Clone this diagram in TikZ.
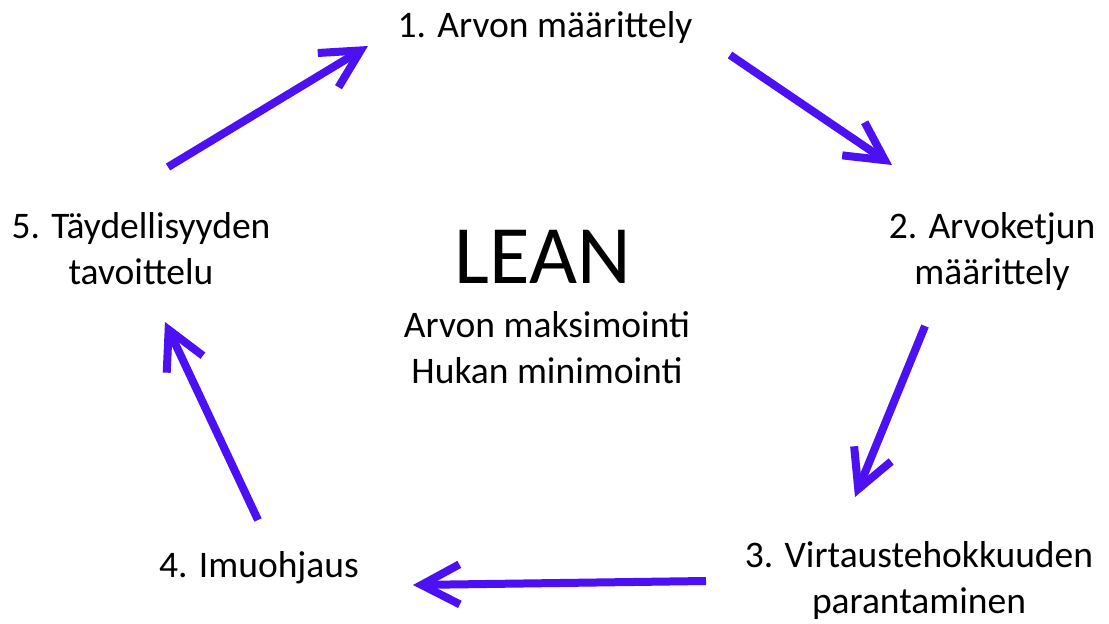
\documentclass[tikz,border=0pt]{standalone}
\usepackage{fontspec}
\setmainfont{Carlito}
\usetikzlibrary{arrows.meta}
\definecolor{cyclecol}{RGB}{76,16,245}
\tikzset{
  label/.style={anchor=base, align=center, inner sep=0pt,
    font=\fontsize{37.5}{45.5}\selectfont},
  cyclearrow/.style={draw=cyclecol, line width=8pt,
    -{Straight Barb[length=38pt,width=40pt,line width=8pt]}}
}
\begin{document}
\begin{tikzpicture}[x=1pt,y=-1pt]
  \useasboundingbox (0,0) rectangle (1109,624);

  % step labels around the cycle (base = baseline of the last line)
  \node[label] (s1) at (545,37) {1. Arvon määrittely};
  \node[label] (s2) at (992,284) {2. Arvoketjun\\määrittely};
  \node[label] (s3) at (919,613) {3. Virtaustehokkuuden\\parantaminen};
  \node[label] (s4) at (259,577) {4. Imuohjaus};
  \node[label] (s5) at (141,284) {5. Täydellisyyden\\tavoittelu};

  % centre title
  \node[anchor=base, inner sep=0pt, font=\fontsize{83}{90}\selectfont] (lean) at (543,283) {LEAN};
  \node[label] (sub) at (547,383) {Arvon maksimointi\\Hukan minimointi};

  % arrow end points
  \coordinate (a1s) at (168,167);  \coordinate (a1e) at (368,46);
  \coordinate (a2s) at (730,55);   \coordinate (a2e) at (892,165);
  \coordinate (a3s) at (925,326);  \coordinate (a3e) at (855,497);
  \coordinate (a4s) at (706,581);  \coordinate (a4e) at (413,585);
  \coordinate (a5s) at (258,520);  \coordinate (a5e) at (165,322);

  \draw[cyclearrow] (a1s) -- (a1e);
  \draw[cyclearrow] (a2s) -- (a2e);
  \draw[cyclearrow] (a3s) -- (a3e);
  \draw[cyclearrow] (a4s) -- (a4e);
  \draw[cyclearrow] (a5s) -- (a5e);
\end{tikzpicture}
\end{document}
